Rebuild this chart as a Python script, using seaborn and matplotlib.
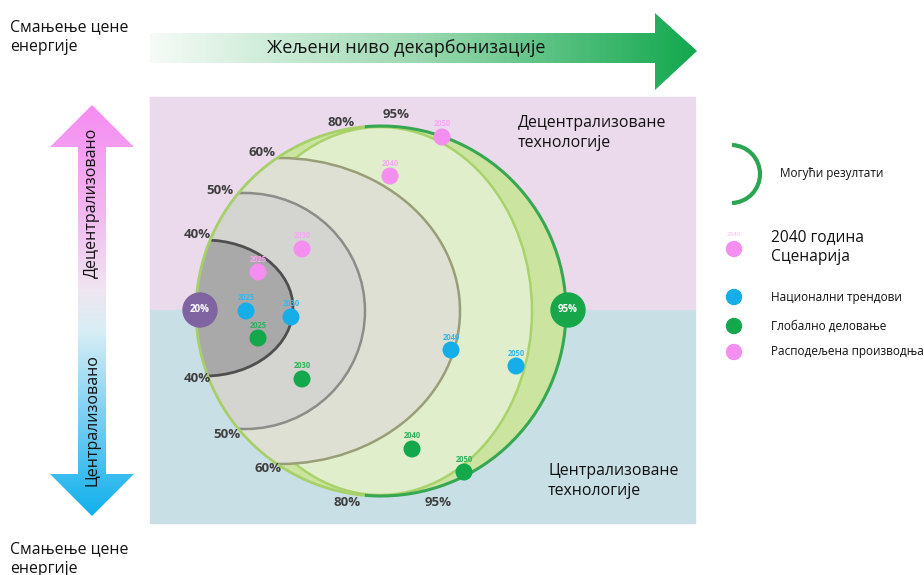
import numpy as np
import pandas as pd
import matplotlib
matplotlib.use("Agg")
import matplotlib.pyplot as plt
import seaborn as sns
from matplotlib.patches import Rectangle, Circle, Ellipse, Polygon, Arc
from matplotlib.colors import LinearSegmentedColormap

sns.set_theme(style="white")
plt.rcParams['font.family'] = ['Open Sans', 'DejaVu Sans']

# ---------------- data ----------------
years = [2025, 2030, 2040, 2050]
scenarios = ["Национални трендови", "Глобално деловање", "Расподељена производња"]
# diagram coordinates (x: decarbonisation axis, y: centralisation axis, screen units)
national_x = [246, 291, 451, 516]
national_y = [311, 317, 350, 366]
global_x = [258, 302, 412, 464]
global_y = [338, 379, 449, 472]
distributed_x = [258, 302, 390, 442]
distributed_y = [272, 249, 176, 137]

level_labels_top = ["40%", "50%", "60%", "80%", "95%"]
level_top_x = [197, 220, 262, 341, 396]
level_top_y = [234, 190, 153, 123, 115]
level_labels_bot = ["40%", "50%", "60%", "80%", "95%"]
level_bot_x = [197, 227, 268, 347, 438]
level_bot_y = [378, 435, 469, 503, 503]

palette = {"Национални трендови": "#16aee8",
           "Глобално деловање": "#13a84b",
           "Расподељена производња": "#f48ef0"}
label_colors = {"Национални трендови": "#3ab6ea",
                "Глобално деловање": "#2fb05a",
                "Расподељена производња": "#f6a8f2"}

df = pd.DataFrame({
    "x": national_x + global_x + distributed_x,
    "y": national_y + global_y + distributed_y,
    "scenario": [scenarios[0]] * 4 + [scenarios[1]] * 4 + [scenarios[2]] * 4,
    "year": years * 3,
})

# ---------------- figure ----------------
fig = plt.figure(figsize=(9.24, 5.75), dpi=100)
ax = fig.add_axes([0, 0, 1, 1])
ax.set_xlim(0, 924)
ax.set_ylim(575, 0)
ax.axis("off")

# background panels
ax.add_patch(Rectangle((150, 97), 545, 213, color="#ebd9ec", zorder=0))
ax.add_patch(Rectangle((150, 310), 545, 213, color="#c9dfe6", zorder=0))

# nested regions
cx, cy, R = 381, 311, 185
outer = Circle((cx, cy), R, facecolor="#cbe5a0", edgecolor="none", zorder=1)
ax.add_patch(outer)
clip = Circle((cx, cy), R, transform=ax.transData)

regions = [
    # center, width, height, face, edge, lw
    ((380, 311), 304, 368, "#e0eecb", "#a9d26a", 1.8),
    ((280, 311), 360, 306, "#dde0d2", "#9a9e78", 1.8),
    ((245, 311), 240, 236, "#d4d4d1", "#8c8c88", 1.8),
    ((205, 308), 176, 136, "#a9a9a9", "#4f4f4f", 2.0),
]
for i, (c, w, h, fc, ec, lw) in enumerate(regions):
    e = Ellipse(c, w, h, facecolor=fc, edgecolor=ec, lw=lw, zorder=2 + i)
    ax.add_patch(e)
    e.set_clip_path(clip)

# outer border: lime on left, green on right
ax.add_patch(Arc((cx, cy), 2 * R, 2 * R, theta1=95, theta2=265, color="#a6d06a", lw=2, zorder=7))
ax.add_patch(Arc((cx, cy), 2 * R, 2 * R, theta1=-95, theta2=95, color="#37a851", lw=2.2, zorder=7))

# 20% and 95% markers
ax.add_patch(Circle((200, 310), 17, color="#8064a2", zorder=8))
ax.text(200, 310, "20%", color="white", fontsize=7, fontweight="bold", ha="center", va="center", zorder=9)
ax.add_patch(Circle((568, 310), 17, color="#17a64a", zorder=8))
ax.text(568, 310, "95%", color="white", fontsize=7, fontweight="bold", ha="center", va="center", zorder=9)

# level labels
for t, x, y in zip(level_labels_top, level_top_x, level_top_y):
    ax.text(x, y, t, fontsize=9.5, fontweight="bold", color="#3f3f3f", ha="center", va="center", zorder=9)
for t, x, y in zip(level_labels_bot, level_bot_x, level_bot_y):
    ax.text(x, y, t, fontsize=9.5, fontweight="bold", color="#3f3f3f", ha="center", va="center", zorder=9)

# scenario points
sns.scatterplot(data=df, x="x", y="y", hue="scenario", palette=palette, s=150,
                edgecolor="none", legend=False, ax=ax, zorder=10)
for _, r in df.iterrows():
    ax.text(r["x"], r["y"] - 13, str(r["year"]), fontsize=5.5, fontweight="bold",
            color=label_colors[r["scenario"]], ha="center", va="center", zorder=10)
ax.set_xlim(0, 924)
ax.set_ylim(575, 0)
ax.axis("off")

# region texts
ax.text(518, 133, "Децентрализоване\nтехнологије", fontsize=11.4, color="#111111",
        ha="left", va="center", linespacing=1.3)
ax.text(548, 481, "Централизоване\nтехнологије", fontsize=11.4, color="#111111",
        ha="left", va="center", linespacing=1.35)

# corner texts
ax.text(10, 37, "Смањење цене\nенергије", fontsize=11.4, color="#111111",
        ha="left", va="center", linespacing=1.3)
ax.text(10, 559, "Смањење цене\nенергије", fontsize=11.4, color="#111111",
        ha="left", va="center", linespacing=1.3)

# top gradient arrow
top_poly = Polygon([(150, 33), (655, 33), (655, 13), (697, 51), (655, 90), (655, 63), (150, 63)],
                   closed=True, transform=ax.transData, facecolor="none", edgecolor="none")
ax.add_patch(top_poly)
gcmap = LinearSegmentedColormap.from_list("g", ["#f6fbf7", "#9ad8b0", "#12a84e"])
grad = np.linspace(0, 1, 256).reshape(1, -1)
im = ax.imshow(grad, cmap=gcmap, extent=(150, 697, 90, 13), aspect="auto", zorder=3)
im.set_clip_path(top_poly)
ax.text(406, 48, "Жељени ниво декарбонизације", fontsize=13, color="#111111",
        ha="center", va="center", zorder=5)

# left vertical gradient arrow
lx = 92
left_poly = Polygon([(lx, 105), (lx + 42, 147), (lx + 14, 147), (lx + 14, 474), (lx + 42, 474),
                     (lx, 516), (lx - 42, 474), (lx - 14, 474), (lx - 14, 147), (lx - 42, 147)],
                    closed=True, transform=ax.transData, facecolor="none", edgecolor="none")
ax.add_patch(left_poly)
vcmap = LinearSegmentedColormap.from_list(
    "v", [(0, "#f68cf2"), (0.25, "#f2b6f0"), (0.45, "#efe6f0"), (0.55, "#d8eef5"),
          (0.75, "#7fd0f2"), (1.0, "#10b0ec")])
vgrad = np.linspace(0, 1, 256).reshape(-1, 1)
im2 = ax.imshow(vgrad, cmap=vcmap, extent=(lx - 42, lx + 42, 516, 105), aspect="auto", zorder=3)
im2.set_clip_path(left_poly)
ax.text(lx, 203, "Децентрализовано", rotation=90, fontsize=11.5, color="#111111",
        ha="center", va="center", zorder=5)
ax.text(lx, 420, "Централизовано", rotation=90, fontsize=11.5, color="#111111",
        ha="center", va="center", zorder=5)

# legend
ax.add_patch(Arc((731, 174), 58, 58, theta1=-88, theta2=88, color="#2aa552", lw=3))
ax.text(780, 173, "Могући резултати", fontsize=8.5, color="#111111", ha="left", va="center")
ax.add_patch(Circle((734, 249), 7.5, color="#f48ef0"))
ax.text(734, 235, "2040", fontsize=4.5, color="#f6b8f3", ha="center", va="center")
ax.text(771, 247, "2040 година\nСценарија", fontsize=11.2, color="#111111", ha="left",
        va="center", linespacing=1.35)
leg_y = [297, 326, 352]
leg_cols = ["#16aee8", "#13a84b", "#f48ef0"]
for yy, cc, name in zip(leg_y, leg_cols, scenarios):
    ax.add_patch(Circle((734, yy), 7.5, color=cc))
    ax.text(771, yy, name, fontsize=8.5, color="#111111", ha="left", va="center")

fig.savefig("out.png", dpi=100)
